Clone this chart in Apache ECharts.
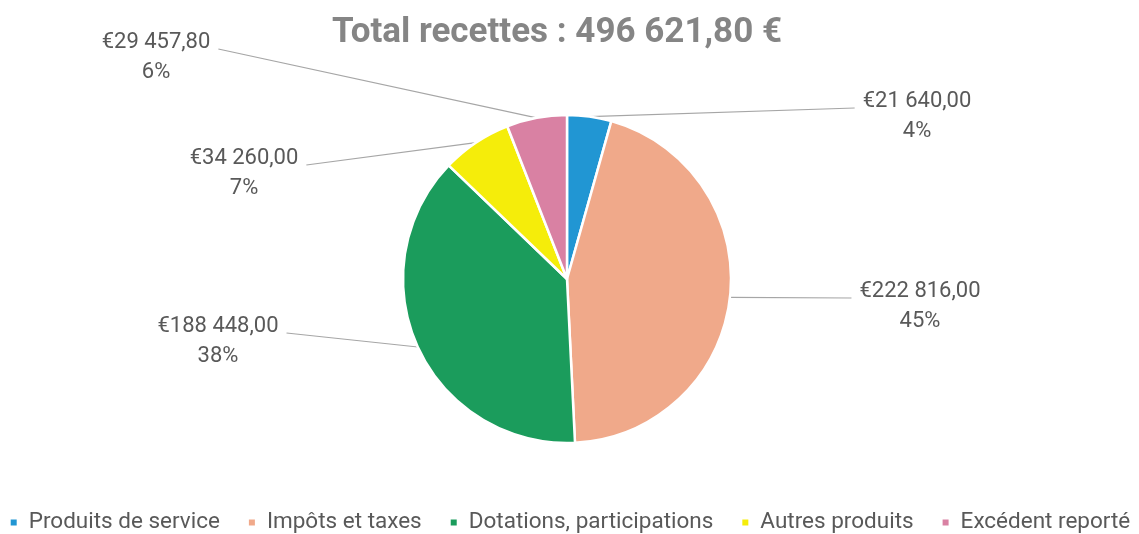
<!DOCTYPE html>
<html>
<head>
<meta charset="utf-8">
<script src="https://cdn.jsdelivr.net/npm/echarts@6/dist/echarts.min.js"></script>
<style>
  html, body { margin: 0; padding: 0; background: #fff; }
  #chart { width: 1139px; height: 534px; }
</style>
</head>
<body>
<div id="chart"></div>
<script>
// données
const categories = ['Produits de service', 'Impôts et taxes', 'Dotations, participations', 'Autres produits', 'Excédent reporté']
const values = [21640.00, 222816.00, 188448.00, 34260.00, 29457.80]
const colors = ['#2196d3', '#f0a98a', '#1b9c5c', '#f5ed0a', '#d981a3']

// position des étiquettes (centre x, centre de la première ligne y)
const labelPos = [[917, 101], [920, 291], [218, 326], [244, 158], [156, 42]]

const center = [567, 279]
const LINE_H = 30

function fmtEuro(v) {
  const parts = v.toFixed(2).split('.')
  const int = parts[0].replace(/\B(?=(\d{3})+(?!\d))/g, ' ')
  return '€' + int + ',' + parts[1]
}

const chart = echarts.init(document.getElementById('chart'))
chart.setOption({
  animation: false,
  title: {
    text: 'Total recettes : 496 621,80 €',
    left: 557,
    textAlign: 'center',
    top: 16,
    padding: 0,
    textStyle: { fontFamily: 'Roboto', fontSize: 35, fontWeight: 'bold', color: '#858585' }
  },
  legend: {
    bottom: 0,
    left: 'center',
    padding: 0,
    icon: 'rect',
    itemWidth: 8,
    itemHeight: 8,
    itemGap: 27,
    textStyle: { fontFamily: 'Roboto', fontSize: 22.5, color: '#595959', padding: [0, 0, 0, 6] },
    data: categories
  },
  series: [
    {
      type: 'pie',
      center: center,
      radius: 164,
      startAngle: 90,
      clockwise: true,
      data: categories.map((c, i) => ({ name: c, value: values[i], itemStyle: { color: colors[i] } })),
      itemStyle: { borderColor: '#fff', borderWidth: 2.5 },
      label: {
        show: true,
        position: 'outside',
        fontFamily: 'Roboto',
        fontSize: 22,
        color: '#595959',
        lineHeight: LINE_H,
        align: 'center',
        formatter: (p) => fmtEuro(p.value) + '\n' + Math.round(p.percent) + '%'
      },
      labelLine: { show: true, lineStyle: { color: '#a6a6a6', width: 1.2 } },
      labelLayout: (params) => {
        const i = params.dataIndex
        const lx = labelPos[i][0]
        const ly = labelPos[i][1]
        const w = params.labelRect.width
        const right = lx > center[0]
        const anchor = params.labelLinePoints[0]
        const end = [right ? lx - w / 2 - 8 : lx + w / 2 + 8, ly + 7]
        return {
          x: lx,
          y: ly - LINE_H / 2,
          align: 'center',
          verticalAlign: 'top',
          labelLinePoints: [anchor, end, end]
        }
      }
    }
  ]
})
</script>
</body>
</html>
